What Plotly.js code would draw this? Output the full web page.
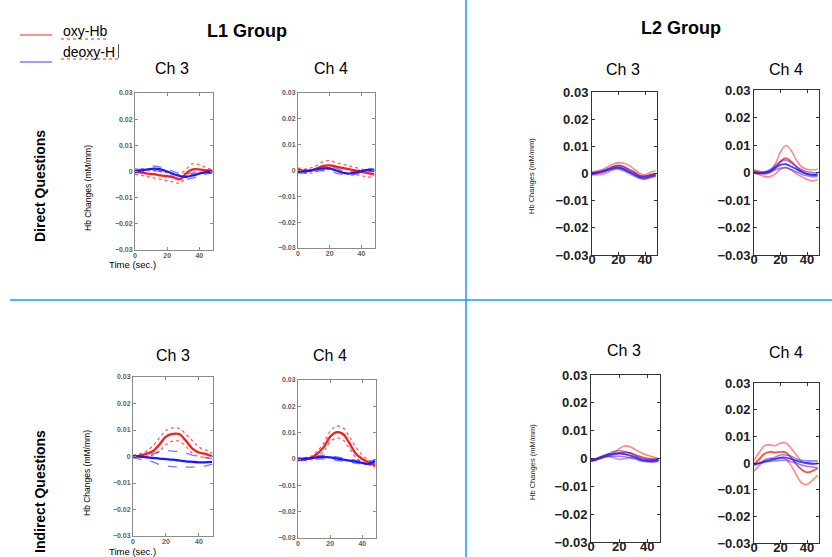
<!DOCTYPE html>
<html><head><meta charset="utf-8">
<script src="https://cdn.plot.ly/plotly-3.0.1.min.js"></script>
<style>html,body{margin:0;padding:0;background:#fff}#chart{width:832px;height:557px}</style>
</head><body><div id="chart"></div>
<script>
// time points (sec.)
const timeSec = [0,4,8,12,16,20,24,28,32,36,40,44,48];

// ---- L1 Group, Direct Questions, Ch 3 ----
const l1DirCh3Oxy      = [0,-0.0004,-0.0008,-0.001,-0.0015,-0.0018,-0.0022,-0.003,-0.0005,0.0008,0.0008,0.0004,0.0001];
const l1DirCh3OxyUp    = [0.001,0.0008,0.0005,0.0003,0,-0.0005,-0.001,-0.001,0.001,0.003,0.0025,0.0015,0.0008];
const l1DirCh3OxyLo    = [-0.001,-0.0015,-0.002,-0.0025,-0.003,-0.0035,-0.004,-0.0045,-0.002,-0.001,-0.0008,-0.0008,-0.0006];
const l1DirCh3Deoxy    = [0,0.0004,0.0008,0.0011,0.0008,0,-0.001,-0.0018,-0.002,-0.0015,-0.0008,-0.0002,0];
const l1DirCh3DeoxyUp  = [0.0005,0.001,0.0015,0.002,0.0017,0.001,0,-0.0008,-0.001,-0.0005,0.0002,0.0006,0.0005];
const l1DirCh3DeoxyLo  = [-0.0005,-0.0002,0.0002,0.0003,0,-0.001,-0.002,-0.003,-0.003,-0.0025,-0.0018,-0.001,-0.0005];

// ---- L1 Group, Direct Questions, Ch 4 ----
const l1DirCh4Oxy      = [0.0005,-0.0003,0,0.0008,0.0018,0.002,0.0015,0.001,0.0005,0,-0.0005,-0.001,-0.0015];
const l1DirCh4OxyUp    = [0.001,0.0005,0.001,0.002,0.0035,0.0038,0.003,0.0025,0.0018,0.0012,0.0005,0,-0.0003];
const l1DirCh4OxyLo    = [0,-0.001,-0.001,-0.0003,0.0003,0.0005,0,-0.0005,-0.001,-0.0015,-0.002,-0.0025,-0.0025];
const l1DirCh4Deoxy    = [-0.0005,-0.0003,0,0.0005,0.0008,0.0008,0,-0.0008,-0.0012,-0.0008,-0.0002,0.0002,0];
const l1DirCh4DeoxyUp  = [0,0.0003,0.0006,0.001,0.0015,0.0015,0.0008,0,-0.0005,-0.0002,0.0004,0.0008,0.0006];
const l1DirCh4DeoxyLo  = [-0.001,-0.0009,-0.0006,-0.0002,0,-0.0002,-0.001,-0.0016,-0.002,-0.0015,-0.0008,-0.0005,-0.0005];

// ---- L1 Group, Indirect Questions, Ch 3 ----
const l1IndCh3Oxy      = [0,0.0003,0.001,0.002,0.0045,0.0075,0.0085,0.0085,0.006,0.003,0.0015,0.001,0];
const l1IndCh3OxyUp    = [0.0005,0.001,0.002,0.004,0.007,0.0098,0.0108,0.0105,0.0085,0.006,0.0035,0.0025,0.0012];
const l1IndCh3OxyLo    = [-0.0005,-0.0003,0,0.0005,0.002,0.0045,0.0058,0.0058,0.0038,0.0012,0,-0.0003,-0.0008];
const l1IndCh3Deoxy    = [0,0,-0.0003,-0.0005,-0.0008,-0.001,-0.0012,-0.0015,-0.0018,-0.002,-0.0022,-0.0022,-0.002];
const l1IndCh3DeoxyUp  = [0,0.0003,0.0005,0.001,0.0018,0.0022,0.002,0.0018,0.0012,0.0005,-0.0003,-0.0005,-0.0008];
const l1IndCh3DeoxyLo  = [-0.0003,-0.001,-0.0015,-0.002,-0.003,-0.0035,-0.0038,-0.004,-0.004,-0.004,-0.0038,-0.0035,-0.003];

// ---- L1 Group, Indirect Questions, Ch 4 ----
const l1IndCh4Oxy      = [0,0,0.0004,0.002,0.0045,0.0085,0.0102,0.0095,0.006,0.002,0,-0.0013,-0.0026];
const l1IndCh4OxyUp    = [0.0005,0.0005,0.001,0.003,0.006,0.0105,0.0125,0.0118,0.0085,0.0045,0.0015,-0.0005,-0.002];
const l1IndCh4OxyLo    = [-0.0005,-0.0005,-0.0002,0.001,0.003,0.0065,0.008,0.0072,0.004,0.0005,-0.001,-0.002,-0.0032];
const l1IndCh4Deoxy    = [-0.0002,0,0.0003,0.0006,0.0008,0.0006,0.0002,-0.0002,-0.0006,-0.001,-0.0015,-0.0018,-0.0008];
const l1IndCh4DeoxyUp  = [0.0002,0.0004,0.0008,0.0012,0.0015,0.0013,0.0008,0.0004,0,-0.0004,-0.0008,-0.0008,-0.0003];
const l1IndCh4DeoxyLo  = [-0.0006,-0.0004,-0.0002,0,0,-0.0002,-0.0005,-0.0008,-0.0012,-0.0016,-0.002,-0.0025,-0.0015];

// ---- L2 Group, Direct Questions, Ch 3 ----
const l2DirCh3OxyHi    = [0.0005,0.001,0.0015,0.0025,0.0035,0.004,0.0038,0.003,0.0015,0,-0.0005,0.0005,0.001];
const l2DirCh3OxyMid   = [0,0.0003,0.0008,0.0015,0.0025,0.003,0.0025,0.0015,0.0005,-0.0008,-0.001,-0.0005,0];
const l2DirCh3OxyLo    = [-0.0005,-0.0005,-0.0003,0.0005,0.0015,0.002,0.0015,0.0005,-0.0005,-0.0015,-0.002,-0.0015,-0.001];
const l2DirCh3DeoxyHi  = [0.0003,0.0005,0.001,0.0018,0.0025,0.0028,0.0022,0.0012,0.0002,-0.0008,-0.001,-0.0005,0];
const l2DirCh3DeoxyMid = [0,0.0003,0.0008,0.0014,0.002,0.0022,0.0016,0.0006,-0.0004,-0.0013,-0.0015,-0.001,-0.0005];
const l2DirCh3DeoxyLo  = [-0.0003,0,0.0004,0.001,0.0015,0.0016,0.001,0,-0.001,-0.0018,-0.002,-0.0015,-0.001];

// ---- L2 Group, Direct Questions, Ch 4 ----
const l2DirCh4OxyHi    = [0.001,0.0005,0,0.0005,0.003,0.0075,0.0098,0.008,0.0045,0.002,0.0012,0.001,0.0012];
const l2DirCh4OxyMid   = [0.0005,0,-0.0005,0,0.0015,0.004,0.0052,0.004,0.002,0.0005,-0.0005,-0.001,-0.0008];
const l2DirCh4OxyLo    = [0,-0.0008,-0.0015,-0.0015,-0.0005,0.0012,0.0018,0.001,-0.0005,-0.0015,-0.0025,-0.003,-0.0025];
const l2DirCh4DeoxyHi  = [0.0003,0,0.0003,0.001,0.0025,0.004,0.0045,0.0035,0.0022,0.001,0.0003,0,-0.0002];
const l2DirCh4DeoxyMid = [0,-0.0002,0,0.0006,0.0018,0.0028,0.003,0.0022,0.0012,0.0002,-0.0005,-0.0008,-0.0008];
const l2DirCh4DeoxyLo  = [-0.0003,-0.0004,-0.0003,0.0002,0.001,0.0016,0.0017,0.001,0.0002,-0.0006,-0.0012,-0.0015,-0.0015];

// ---- L2 Group, Indirect Questions, Ch 3 ----
const l2IndCh3OxyHi    = [-0.0005,0,0.0008,0.0015,0.002,0.0035,0.0045,0.0042,0.003,0.002,0.0012,0.0005,0];
const l2IndCh3OxyMid   = [-0.0005,0,0.0008,0.0015,0.0018,0.002,0.0022,0.002,0.0012,0.0005,0,-0.0003,-0.0005];
const l2IndCh3OxyLo    = [-0.0008,-0.0003,0.0003,0.0008,0.0003,-0.0003,0,0.0003,0,-0.0005,-0.001,-0.0012,-0.001];
const l2IndCh3DeoxyHi  = [-0.0005,0,0.0008,0.0015,0.0025,0.0028,0.0025,0.0018,0.0008,0,-0.0003,-0.0003,0];
const l2IndCh3DeoxyMid = [-0.0008,-0.0003,0.0005,0.001,0.0015,0.0018,0.0016,0.001,0.0003,-0.0005,-0.0008,-0.0008,-0.0005];
const l2IndCh3DeoxyLo  = [-0.001,-0.0005,0.0002,0.0006,0.0008,0.0008,0.0006,0.0002,-0.0003,-0.001,-0.0012,-0.0012,-0.001];

// ---- L2 Group, Indirect Questions, Ch 4 ----
const l2IndCh4OxyHi    = [0.001,0.004,0.0065,0.0068,0.0065,0.0075,0.0075,0.0055,0.003,0.0005,-0.0003,-0.0005,0];
const l2IndCh4OxyMid   = [-0.0005,0.0015,0.0035,0.0042,0.004,0.0042,0.004,0.002,-0.0005,-0.0025,-0.0035,-0.003,-0.002];
const l2IndCh4OxyLo    = [-0.003,-0.001,0.0012,0.0018,0.0015,0.0018,0.0015,-0.001,-0.0045,-0.0075,-0.008,-0.0065,-0.0045];
const l2IndCh4DeoxyHi  = [-0.0005,0,0.0008,0.0015,0.0022,0.003,0.003,0.0025,0.0015,0.001,0.0008,0.0008,0.0008];
const l2IndCh4DeoxyMid = [-0.0005,0,0.0005,0.001,0.0015,0.002,0.002,0.0015,0.0008,0.0003,0,-0.0002,-0.0002];
const l2IndCh4DeoxyLo  = [-0.0008,-0.0003,0.0003,0.0006,0.0008,0.001,0.001,0.0005,0,-0.0008,-0.0012,-0.0015,-0.0018];

// tick labels
const yTickVals = [-0.03,-0.02,-0.01,0,0.01,0.02,0.03];
const xTickVals = [0,20,40];

const W = 832, H = 557;
const RED = '#ff1a1a', BLUE = '#1a1aff';

const traces = [];
function l1Panel(n, oxy, oxyUp, oxyLo, de, deUp, deLo) {
  const ax = {xaxis: 'x' + n, yaxis: 'y' + n, x: timeSec, mode: 'lines', hoverinfo: 'skip', showlegend: false};
  traces.push(Object.assign({}, ax, {y: oxyUp, line: {color: RED, width: 1.3, dash: 'dot', shape: 'spline'}, opacity: 0.7}));
  traces.push(Object.assign({}, ax, {y: oxyLo, line: {color: RED, width: 1.3, dash: 'dot', shape: 'spline'}, opacity: 0.7}));
  traces.push(Object.assign({}, ax, {y: deUp, line: {color: BLUE, width: 1.3, dash: 'dash', shape: 'spline'}, opacity: 0.6}));
  traces.push(Object.assign({}, ax, {y: deLo, line: {color: BLUE, width: 1.3, dash: 'dash', shape: 'spline'}, opacity: 0.6}));
  traces.push(Object.assign({}, ax, {y: oxy, line: {color: RED, width: 2.3, shape: 'spline'}}));
  traces.push(Object.assign({}, ax, {y: de, line: {color: BLUE, width: 2.3, shape: 'spline'}}));
}
function l2Panel(n, oHi, oMid, oLo, dHi, dMid, dLo) {
  const ax = {xaxis: 'x' + n, yaxis: 'y' + n, x: timeSec, mode: 'lines', hoverinfo: 'skip', showlegend: false};
  [oHi, oLo].forEach(v => traces.push(Object.assign({}, ax, {y: v, line: {color: 'rgba(255,40,40,0.55)', width: 1.6, shape: 'spline'}})));
  traces.push(Object.assign({}, ax, {y: oMid, line: {color: 'rgba(255,30,30,0.8)', width: 1.8, shape: 'spline'}}));
  [dHi, dLo].forEach(v => traces.push(Object.assign({}, ax, {y: v, line: {color: 'rgba(40,40,255,0.55)', width: 1.6, shape: 'spline'}})));
  traces.push(Object.assign({}, ax, {y: dMid, line: {color: 'rgba(30,30,255,0.85)', width: 1.8, shape: 'spline'}}));
}

l1Panel(1, l1DirCh3Oxy, l1DirCh3OxyUp, l1DirCh3OxyLo, l1DirCh3Deoxy, l1DirCh3DeoxyUp, l1DirCh3DeoxyLo);
l1Panel(2, l1DirCh4Oxy, l1DirCh4OxyUp, l1DirCh4OxyLo, l1DirCh4Deoxy, l1DirCh4DeoxyUp, l1DirCh4DeoxyLo);
l2Panel(3, l2DirCh3OxyHi, l2DirCh3OxyMid, l2DirCh3OxyLo, l2DirCh3DeoxyHi, l2DirCh3DeoxyMid, l2DirCh3DeoxyLo);
l2Panel(4, l2DirCh4OxyHi, l2DirCh4OxyMid, l2DirCh4OxyLo, l2DirCh4DeoxyHi, l2DirCh4DeoxyMid, l2DirCh4DeoxyLo);
l1Panel(5, l1IndCh3Oxy, l1IndCh3OxyUp, l1IndCh3OxyLo, l1IndCh3Deoxy, l1IndCh3DeoxyUp, l1IndCh3DeoxyLo);
l1Panel(6, l1IndCh4Oxy, l1IndCh4OxyUp, l1IndCh4OxyLo, l1IndCh4Deoxy, l1IndCh4DeoxyUp, l1IndCh4DeoxyLo);
l2Panel(7, l2IndCh3OxyHi, l2IndCh3OxyMid, l2IndCh3OxyLo, l2IndCh3DeoxyHi, l2IndCh3DeoxyMid, l2IndCh3DeoxyLo);
l2Panel(8, l2IndCh4OxyHi, l2IndCh4OxyMid, l2IndCh4OxyLo, l2IndCh4DeoxyHi, l2IndCh4DeoxyMid, l2IndCh4DeoxyLo);

// panel boxes in pixels: [left, right, top, bottom], type
const panels = [
  [135,213,93,250,'L1'], [298,375,93,248,'L1'], [592,657,92,255,'L2'], [754,819,90,255,'L2'],
  [133,213,377,536,'L1'], [298,376,380,538,'L1'], [591,660,375,542,'L2'], [754,819,383,543,'L2']
];

const layout = {
  width: W, height: H, margin: {l: 0, r: 0, t: 0, b: 0},
  paper_bgcolor: '#fff', plot_bgcolor: '#fff', showlegend: false,
  annotations: [], shapes: []
};
panels.forEach((p, i) => {
  const n = i + 1;
  const l1 = p[4] === 'L1';
  const lc = l1 ? '#8a8a8a' : '#333';
  const tf = l1 ? {family: 'Liberation Sans, Arial', size: 7, color: '#606060', weight: 'bold'}
                : {family: 'Liberation Sans, Arial', size: 13, color: '#222', weight: 'bold'};
  layout['xaxis' + n] = {
    domain: [p[0] / W, p[1] / W], anchor: 'y' + n, range: l1 ? [0, 48.5] : [0, 49],
    tickvals: xTickVals, ticktext: xTickVals.map(String), ticks: 'inside', ticklen: 3, tickcolor: lc,
    showline: true, linecolor: lc, linewidth: 1, mirror: 'ticks', showgrid: false, zeroline: false,
    tickfont: tf, ticklabelstandoff: l1 ? -1 : -8
  };
  layout['yaxis' + n] = {
    domain: [1 - p[3] / H, 1 - p[2] / H], anchor: 'x' + n, range: [-0.03, 0.03],
    tickvals: yTickVals, ticktext: yTickVals.map(v => v === 0 ? '0' : (v < 0 ? '\u2212' : '') + Math.abs(v).toFixed(2)),
    ticks: 'inside', ticklen: 3, tickcolor: lc,
    showline: true, linecolor: lc, linewidth: 1, mirror: 'ticks', showgrid: false, zeroline: false,
    tickfont: tf
  };
});

function txt(text, x, y, size, opts) {
  layout.annotations.push(Object.assign({
    text: text, x: x / W, y: 1 - y / H, xref: 'paper', yref: 'paper',
    showarrow: false, xanchor: 'center', yanchor: 'middle',
    font: {family: 'Liberation Sans, Arial', size: size, color: '#000'}
  }, opts || {}));
}
// group titles
txt('<b>L1 Group</b>', 247, 31, 18);
txt('<b>L2 Group</b>', 681, 28, 18);
// channel labels
txt('Ch 3', 172, 68, 16); txt('Ch 4', 331, 68, 16);
txt('Ch 3', 623, 69, 16); txt('Ch 4', 786, 69, 16);
txt('Ch 3', 173, 355, 16); txt('Ch 4', 330, 355, 16);
txt('Ch 3', 624, 350, 16); txt('Ch 4', 786, 352, 16);
// row labels
txt('<b>Direct Questions</b>', 40, 186, 14, {textangle: -90});
txt('<b>Indirect Questions</b>', 40, 492, 14, {textangle: -90});
// axis titles
txt('Hb Changes (mM/mm)', 88, 188, 8.5, {textangle: -90});
txt('Hb Changes (mM/mm)', 87, 473, 8.5, {textangle: -90});
txt('Hb Changes (mM/mm)', 532, 176, 7.5, {textangle: -90, font: {family: 'Liberation Sans, Arial', size: 7.5, color: '#222'}});
txt('Hb Changes (mM/mm)', 532, 462, 7.5, {textangle: -90, font: {family: 'Liberation Sans, Arial', size: 7.5, color: '#222'}});
txt('Time (sec.)', 132, 264, 9.5);
txt('Time (sec.)', 132, 551, 9.5);
// legend
txt('oxy-Hb', 61, 31, 14, {xanchor: 'left'});
txt('deoxy-H', 61, 52, 14, {xanchor: 'left'});

layout.shapes.push(
  {type: 'line', xref: 'paper', yref: 'paper', x0: 20 / W, x1: 52 / W, y0: 1 - 35 / H, y1: 1 - 35 / H, line: {color: '#ff2020', width: 1}},
  {type: 'line', xref: 'paper', yref: 'paper', x0: 20 / W, x1: 52 / W, y0: 1 - 62 / H, y1: 1 - 62 / H, line: {color: '#3a3aff', width: 1}},
  {type: 'line', xref: 'paper', yref: 'paper', x0: 61 / W, x1: 108 / W, y0: 1 - 39 / H, y1: 1 - 39 / H, line: {color: '#e03030', width: 1, dash: 'dot'}},
  {type: 'line', xref: 'paper', yref: 'paper', x0: 61 / W, x1: 118 / W, y0: 1 - 59 / H, y1: 1 - 59 / H, line: {color: '#e03030', width: 1, dash: 'dot'}},
  {type: 'line', xref: 'paper', yref: 'paper', x0: 118.5 / W, x1: 118.5 / W, y0: 1 - 44 / H, y1: 1 - 58 / H, line: {color: '#555', width: 1}},
  {type: 'line', xref: 'paper', yref: 'paper', x0: 466 / W, x1: 466 / W, y0: 0, y1: 1, line: {color: '#1e96ff', width: 1.5}},
  {type: 'line', xref: 'paper', yref: 'paper', x0: 10 / W, x1: 1, y0: 1 - 300 / H, y1: 1 - 300 / H, line: {color: '#1e96ff', width: 1.5}}
);

Plotly.newPlot('chart', traces, layout, {staticPlot: true, displayModeBar: false});
</script>
</body></html>
